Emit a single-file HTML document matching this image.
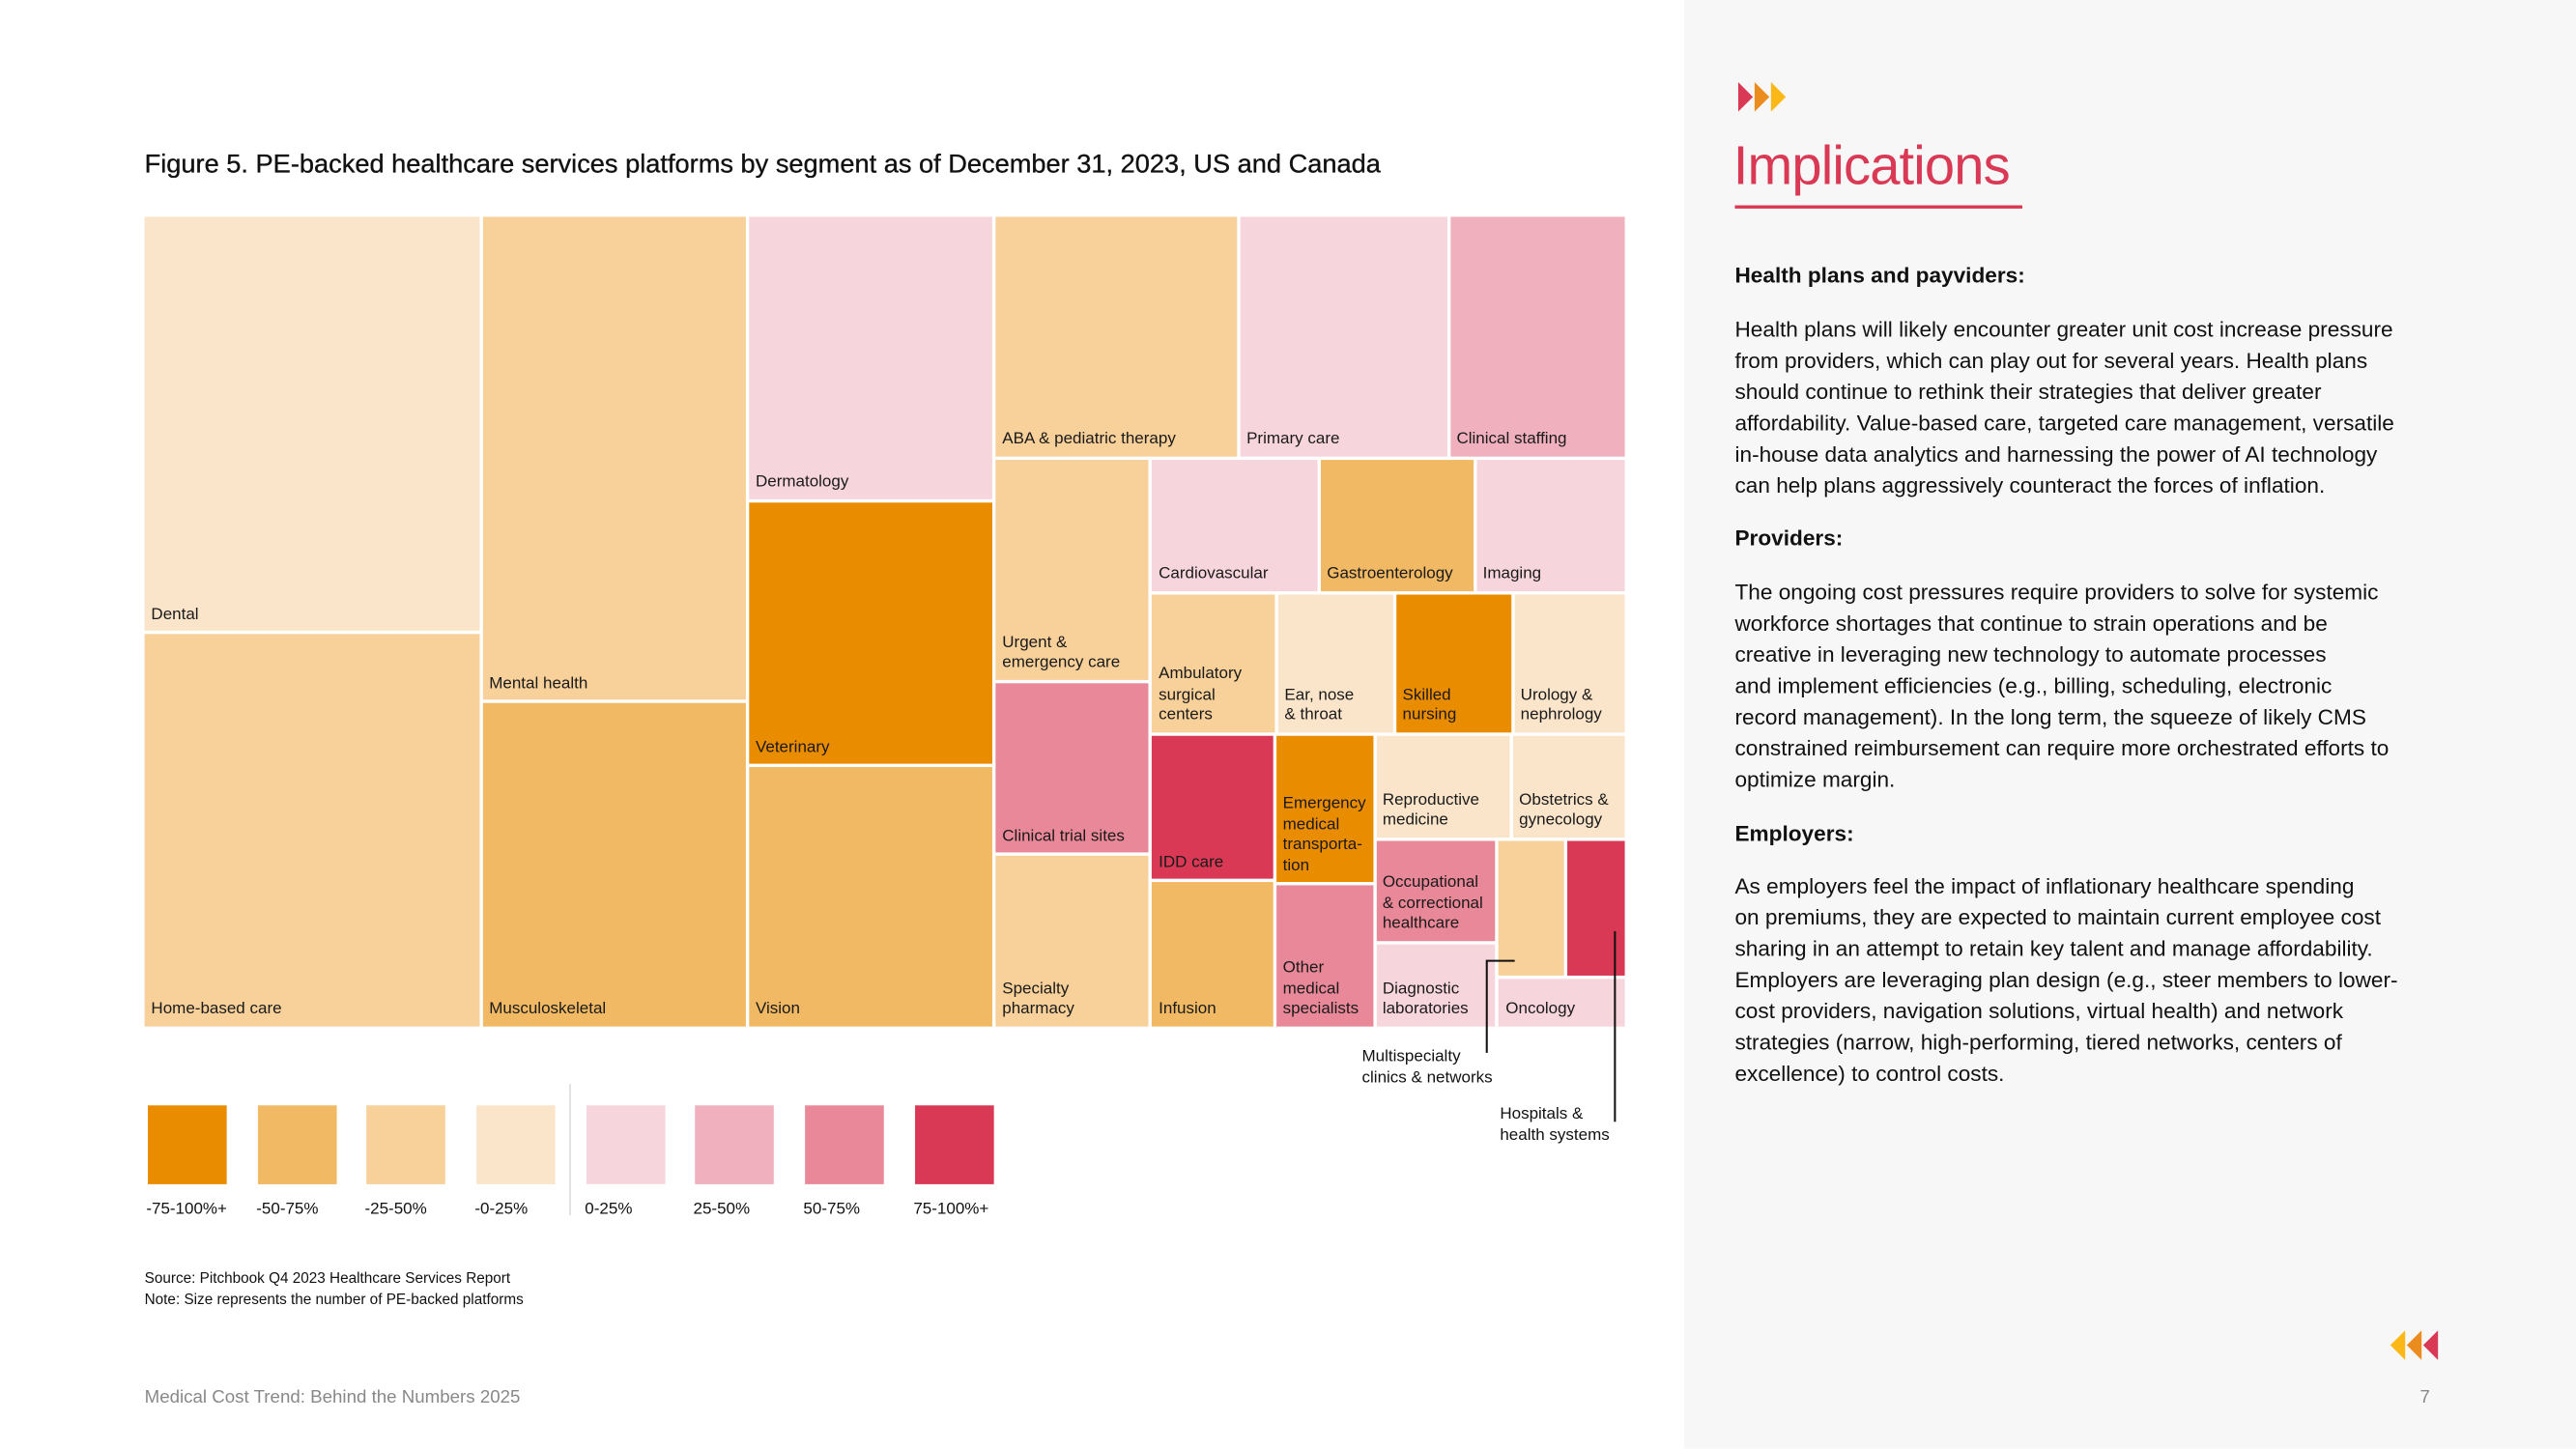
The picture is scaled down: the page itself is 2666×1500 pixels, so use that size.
<!DOCTYPE html>
<html><head><meta charset="utf-8">
<style>
html,body{margin:0;padding:0;background:#fff;}
body{width:2666px;height:1500px;overflow:hidden;font-family:"Liberation Sans",Arial,sans-serif;}
#stage{position:absolute;left:0;top:0;width:1568px;height:882px;transform:scale(1.70026);transform-origin:0 0;background:#fff;}
.abs{position:absolute;}
#panel{left:1025px;top:0;width:543px;height:882px;background:#f7f7f7;}
.cell{position:absolute;box-sizing:border-box;}
.lbl{position:absolute;left:4px;right:1px;bottom:3px;font-size:10px;line-height:12.5px;color:#1a1a1a;white-space:pre;}
.body{font-size:13.3px;line-height:19px;color:#111;white-space:pre;}
.h{font-weight:bold;font-size:13.3px;color:#111;}
.lg{position:absolute;top:673px;width:48px;height:48px;}
.lt{position:absolute;top:731px;font-size:10px;color:#111;}
</style></head><body>
<div id="stage">
  <div class="abs" style="left:88px;top:92px;font-size:16px;color:#111;-webkit-text-stroke:0.2px #111;">Figure 5. PE-backed healthcare services platforms by segment as of December 31, 2023, US and Canada</div>
  <div id="treemap" class="abs" style="left:88px;top:132px;width:901px;height:493px;"></div>

  <svg class="abs" style="left:0;top:0;" width="1568" height="882">
    <polyline points="922,585 905,585 905,641" fill="none" stroke="#111" stroke-width="1.2"/>
    <line x1="983" y1="567" x2="983" y2="683" stroke="#111" stroke-width="1.2"/>
    <line x1="347" y1="660" x2="347" y2="740" stroke="#ddd" stroke-width="1"/>
  </svg>
  <div class="abs" style="left:829px;top:638px;font-size:10px;line-height:12.5px;white-space:pre;color:#111;">Multispecialty
clinics &amp; networks</div>
  <div class="abs" style="left:913px;top:673px;font-size:10px;line-height:12.5px;white-space:pre;color:#111;">Hospitals &amp;
health systems</div>

  <div id="legend"></div>

  <div class="abs" style="left:88px;top:772px;font-size:9px;line-height:13px;color:#111;">Source: Pitchbook Q4 2023 Healthcare Services Report<br>Note: Size represents the number of PE-backed platforms</div>
  <div class="abs" style="left:88px;top:845px;font-size:11px;color:#888;">Medical Cost Trend: Behind the Numbers 2025</div>

  <div id="panel" class="abs"></div>
  <svg class="abs" style="left:1058px;top:50px;" width="32" height="20">
    <polygon points="0,0 9,9 0,18" fill="#d93954"/><polygon points="10,0 19,9 10,18" fill="#ea8c1e"/><polygon points="20,0 29,9 20,18" fill="#fbb817"/>
  </svg>
  <div class="abs" style="left:1055px;top:82px;font-size:33px;color:#d93954;letter-spacing:-0.5px;">Implications</div>
  <div class="abs" style="left:1056px;top:125px;width:175px;height:2px;background:#d93954;"></div>
  <div class="abs h" style="left:1056px;top:160px;">Health plans and payviders:</div>
  <div class="abs body" style="left:1056px;top:191px;">Health plans will likely encounter greater unit cost increase pressure
from providers, which can play out for several years. Health plans
should continue to rethink their strategies that deliver greater
affordability. Value-based care, targeted care management, versatile
in-house data analytics and harnessing the power of AI technology
can help plans aggressively counteract the forces of inflation.</div>
  <div class="abs h" style="left:1056px;top:320px;">Providers:</div>
  <div class="abs body" style="left:1056px;top:351px;">The ongoing cost pressures require providers to solve for systemic
workforce shortages that continue to strain operations and be
creative in leveraging new technology to automate processes
and implement efficiencies (e.g., billing, scheduling, electronic
record management). In the long term, the squeeze of likely CMS
constrained reimbursement can require more orchestrated efforts to
optimize margin.</div>
  <div class="abs h" style="left:1056px;top:500px;">Employers:</div>
  <div class="abs body" style="left:1056px;top:530px;">As employers feel the impact of inflationary healthcare spending
on premiums, they are expected to maintain current employee cost
sharing in an attempt to retain key talent and manage affordability.
Employers are leveraging plan design (e.g., steer members to lower-
cost providers, navigation solutions, virtual health) and network
strategies (narrow, high-performing, tiered networks, centers of
excellence) to control costs.</div>
  <svg class="abs" style="left:1455px;top:810px;" width="32" height="20">
    <polygon points="9,0 0,9 9,18" fill="#fbb817"/><polygon points="19,0 10,9 19,18" fill="#ea8c1e"/><polygon points="29,0 20,9 29,18" fill="#d93954"/>
  </svg>
  <div class="abs" style="left:1473px;top:845px;font-size:11px;color:#888;">7</div>
</div>
<script>
const colors = ["#EA8C00","#F1B963","#F7D09A","#FAE5CA","#F7D5DD","#F0B0BE","#E98898","#D93954"];
const legendLabels = ["-75-100%+","-50-75%","-25-50%","-0-25%","0-25%","25-50%","50-75%","75-100%+"];
const segments = ["Dental","Home-based care","Mental health","Musculoskeletal","Dermatology","Veterinary","Vision","ABA & pediatric therapy","Primary care","Clinical staffing","Urgent &\nemergency care","Clinical trial sites","Specialty\npharmacy","Cardiovascular","Gastroenterology","Imaging","Ambulatory\nsurgical\ncenters","Ear, nose\n& throat","Skilled\nnursing","Urology &\nnephrology","IDD care","Infusion","Emergency\nmedical\ntransporta-\ntion","Other\nmedical\nspecialists","Reproductive\nmedicine","Obstetrics &\ngynecology","Occupational\n& correctional\nhealthcare","Diagnostic\nlaboratories","Multispecialty clinics & networks","Hospitals & health systems","Oncology"];
const platformCounts = [255,241,234,157,127,118,117,107,92,78,63,49,49,41,38,37,32,30,30,29,33,33,27,26,26,22,23,19,17,15,12];
const colorBand = [3,2,2,1,4,0,1,2,4,5,2,6,2,4,1,4,2,3,0,3,7,1,0,6,3,3,6,4,2,7,4];
const hideLabel = [28,29];
const tree = {d:'h',c:[{d:'v',c:[0,1]},{d:'v',c:[2,3]},{d:'v',c:[4,5,6]},
  {d:'v',c:[{d:'h',c:[7,8,9]},{d:'h',c:[{d:'v',c:[10,11,12]},{d:'v',c:[{d:'h',c:[13,14,15]},
  {d:'v',c:[{d:'h',c:[16,17,18,19]},{d:'h',c:[{d:'v',c:[20,21]},{d:'v',c:[22,23]},
  {d:'v',c:[{d:'h',c:[24,25]},{d:'h',c:[{d:'v',c:[26,27]},{d:'v',c:[{d:'h',c:[28,29]},30]}]}]}]}]}]}]}]}]};

function total(n){return typeof n==='number'?platformCounts[n]:n.c.reduce((s,k)=>s+total(k),0);}
const tm=document.getElementById('treemap');
const W=901,H=493;
function layout(n,x,y,w,h){
  if(typeof n==='number'){drawCell(n,x,y,w,h);return;}
  const t=total(n);let off=0;
  n.c.forEach(k=>{const f=total(k)/t;
    if(n.d==='h'){layout(k,x+off,y,w*f,h);off+=w*f;}else{layout(k,x,y+off,w,h*f);off+=h*f;}});
}
function drawCell(i,x,y,w,h){
  const d=document.createElement('div');
  d.className='cell';
  
  
  d.style.left=(x+1)+'px';d.style.top=(y+1)+'px';
  d.style.width=Math.max(0,w-2)+'px';d.style.height=Math.max(0,h-2)+'px';
  d.style.background=colors[colorBand[i]];
  if(hideLabel.indexOf(i)<0){
    const l=document.createElement('div');l.className='lbl';l.textContent=segments[i];
    
    
    d.appendChild(l);
  }
  tm.appendChild(d);
}
layout(tree,-1,-1,W+2,H+2);

const lg=document.getElementById('legend');
const lgX=[90,157,223,290,357,423,490,557];
legendLabels.forEach((t,i)=>{
  const s=document.createElement('div');s.className='lg';
  
  
  s.style.left=lgX[i]+'px';s.style.background=colors[i];lg.appendChild(s);
  const l=document.createElement('div');l.className='lt';
  
  
  l.style.left=(lgX[i]-1)+'px';l.textContent=t;lg.appendChild(l);
});
</script>
</body></html>
